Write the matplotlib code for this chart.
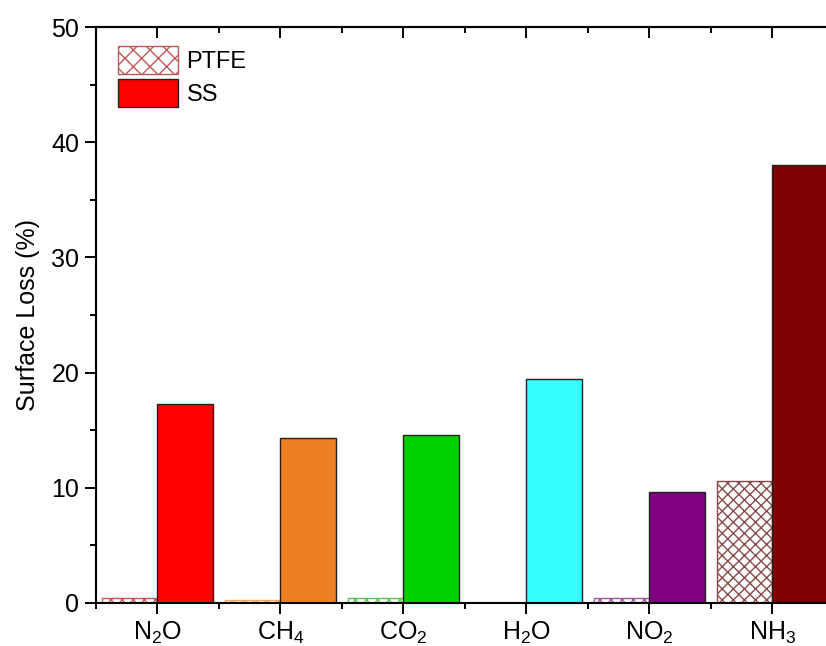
import numpy as np
import matplotlib
matplotlib.use("Agg")
import matplotlib.pyplot as plt
from matplotlib.patches import Patch
from matplotlib.ticker import MultipleLocator

plt.rcParams["font.family"] = ["Liberation Sans", "DejaVu Sans"]
plt.rcParams["mathtext.fontset"] = "custom"
plt.rcParams["mathtext.rm"] = "Liberation Sans"
plt.rcParams["mathtext.it"] = "Liberation Sans"
plt.rcParams["hatch.linewidth"] = 1.0

gases = ["N$_2$O", "CH$_4$", "CO$_2$", "H$_2$O", "NO$_2$", "NH$_3$"]
ptfe = [0.45, 0.25, 0.4, 0.0, 0.4, 10.6]
ss = [17.3, 14.3, 14.55, 19.4, 9.65, 38.0]
ss_colors = ["#FF0000", "#EE7F22", "#00D000", "#33FFFF", "#800080", "#7F0000"]
ptfe_colors = ["#CC5555", "#E8A860", "#55C855", "#55CCCC", "#A055A0", "#8B4A4A"]

x = np.arange(1, len(gases) + 1)
w = 0.45

fig = plt.figure(figsize=(8.26, 6.46), dpi=100)
# axes run past the right edge of the figure
ax = fig.add_axes([0.1162, 0.0666, 1.042, 0.8916])

for i in range(len(gases)):
    ax.bar(x[i] - w / 2, ptfe[i], w, color="white", edgecolor=ptfe_colors[i],
           hatch="xxx", linewidth=1.0)
    ax.bar(x[i] + w / 2, ss[i], w, color=ss_colors[i], edgecolor="#222222",
           linewidth=1.0)

ax.set_xlim(0.5, 7.5)
ax.set_ylim(0, 50)
ax.set_xticks(x)
ax.set_xticklabels(gases)
ax.xaxis.set_minor_locator(MultipleLocator(1, offset=0.5))
ax.yaxis.set_major_locator(MultipleLocator(10))
ax.yaxis.set_minor_locator(MultipleLocator(5))

ax.tick_params(which="both", direction="out", width=1.4, labelsize=18)
ax.tick_params(which="major", length=8, pad=4)
ax.tick_params(which="minor", length=4)
for s in ["left", "bottom", "top"]:
    ax.spines[s].set_linewidth(1.5)
ax.spines["right"].set_visible(False)

top = ax.secondary_xaxis("top")
top.set_xticks(x)
top.set_xticklabels([])
top.xaxis.set_minor_locator(MultipleLocator(1, offset=0.5))
top.tick_params(which="both", direction="in", width=1.4)
top.tick_params(which="major", length=8)
top.tick_params(which="minor", length=4)
top.spines["top"].set_linewidth(1.5)

ax.set_ylabel("Surface Loss (%)", fontsize=18, labelpad=8)

handles = [
    Patch(facecolor="white", edgecolor="#C05858", hatch="xx", label="PTFE"),
    Patch(facecolor="#FF0000", edgecolor="#222222", label="SS"),
]
ax.legend(handles=handles, loc="upper left", bbox_to_anchor=(0.0256, 0.967),
          frameon=False, fontsize=17, handlelength=2.55, handleheight=1.45,
          handletextpad=0.35, labelspacing=0.2, borderpad=0, borderaxespad=0)

fig.savefig("out.png", dpi=100)
